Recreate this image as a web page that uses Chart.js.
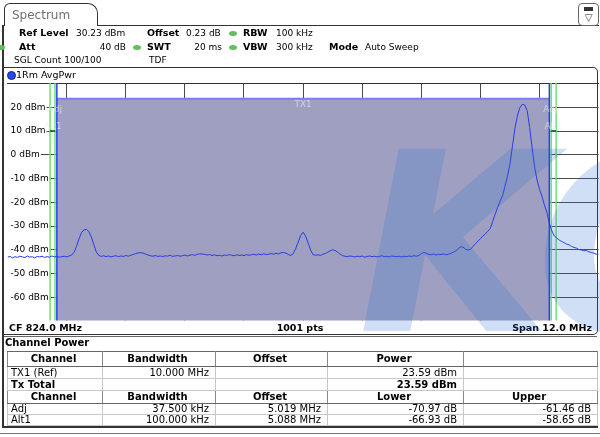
<!DOCTYPE html>
<html>
<head>
<meta charset="utf-8">
<script src="https://cdn.jsdelivr.net/npm/chart.js@4.4.0/dist/chart.umd.min.js"></script>
<style>
  html, body { margin: 0; padding: 0; background: #fff; }
  #page { position: relative; width: 600px; height: 437px; overflow: hidden;
          font-family: "DejaVu Sans", sans-serif; color: #000; }
  .a { position: absolute; white-space: nowrap; line-height: 12px; }
  .h { font-size: 9px; }
  .hb { font-size: 9.5px; font-weight: bold; }
  .f { font-size: 9.5px; font-weight: bold; }
  .dot { position: absolute; width: 8px; height: 5px; border-radius: 50%; background: #5fbf5f; }
  #spec { position: absolute; left: 0; top: 0; }
  #cp { position: absolute; left: 7px; top: 351px; border-collapse: collapse; table-layout: fixed;
        font-size: 10px; width: 590px; }
  #cp td, #cp th { padding: 0 6px 0 3px; line-height: 10px; border: 1px solid #c8c8c8; overflow: hidden; white-space: nowrap; }
  #cp th { text-align: center; border-top: 1px solid #666; border-bottom: 1px solid #666;
           border-left: 1px solid #888; border-right: 1px solid #888; }
  #cp .r { text-align: right; }
  #cp .bd { font-weight: bold; }
  #wm { position: absolute; left: 0; top: 0; width: 600px; height: 335px; overflow: hidden; pointer-events: none; }
  #wm span { position: absolute; left: 358px; top: 120px; font: italic bold 250px/250px "DejaVu Sans";
             color: rgba(40, 110, 210, 0.22); }
</style>
</head>
<body>
<div id="page">
  <!-- frames -->
  <div class="a" style="left:4px;top:3px;width:92px;height:22px;border:1.5px solid #333;border-bottom:none;border-radius:6px 10px 0 0;"></div>
  <div class="a" style="left:97px;top:25px;width:502px;height:0;border-top:1.5px solid #333;"></div>
  <div class="a" style="left:578px;top:3px;width:19px;height:21px;border:1px solid #666;border-radius:4px;font-size:10px;line-height:12px;text-align:center;color:#333;">
    <div style="position:absolute;left:5px;top:3px;width:9px;height:4px;background:#333;"></div>
    <div style="position:absolute;left:0;top:8px;width:19px;">▽</div>
  </div>
  <div class="a" style="left:2px;top:25px;width:0;height:403px;border-left:2px solid #333;"></div>
  <div class="a" style="left:4px;top:67px;width:593px;height:266px;border:1px solid #333;border-left:none;border-radius:0 5px 5px 0;"></div>
  <div class="a" style="left:4px;top:336px;width:593px;height:0;border-top:1px solid #666;"></div>
  <div class="a" style="left:2px;top:426px;width:596px;height:0;border-top:2px solid #333;"></div>
  <div class="a" style="left:0;top:433px;width:600px;height:0;border-top:1px solid #777;"></div>

  <canvas id="spec" width="600" height="437"></canvas>

  <!-- tab + header -->
  <div class="a" style="left:12px;top:8px;font-size:12px;line-height:14px;color:#707070;">Spectrum</div>

  <div class="a hb" style="left:19px;top:27px;">Ref Level</div>
  <div class="a h"  style="left:76px;top:27px;">30.23 dBm</div>
  <div class="a hb" style="left:147px;top:27px;">Offset</div>
  <div class="a h"  style="left:186px;top:27px;">0.23 dB</div>
  <div class="dot" style="left:229px;top:31px;"></div>
  <div class="a hb" style="left:243px;top:27px;">RBW</div>
  <div class="a h"  style="left:276px;top:27px;">100 kHz</div>

  <div class="dot" style="left:-3px;top:45px;"></div>
  <div class="a hb" style="left:19px;top:41px;">Att</div>
  <div class="a h"  style="left:76px;top:41px;width:50px;text-align:right;">40 dB</div>
  <div class="dot" style="left:133px;top:45px;"></div>
  <div class="a hb" style="left:147px;top:41px;">SWT</div>
  <div class="a h"  style="left:172px;top:41px;width:50px;text-align:right;">20 ms</div>
  <div class="dot" style="left:229px;top:45px;"></div>
  <div class="a hb" style="left:243px;top:41px;">VBW</div>
  <div class="a h"  style="left:276px;top:41px;">300 kHz</div>
  <div class="a hb" style="left:329px;top:41px;">Mode</div>
  <div class="a h"  style="left:365px;top:41px;">Auto Sweep</div>

  <div class="a h" style="left:14px;top:54px;">SGL Count 100/100</div>
  <div class="a h" style="left:149px;top:54px;">TDF</div>

  <div class="a" style="left:7px;top:71px;width:7px;height:7px;border-radius:50%;background:#2848e8;border:0.5px solid #102090;"></div>
  <div class="a h" style="left:16px;top:69px;font-size:9.5px;">1Rm AvgPwr</div>

  <!-- footer -->
  <div class="a f" style="left:9px;top:322px;">CF 824.0 MHz</div>
  <div class="a f" style="left:250px;top:322px;width:100px;text-align:center;">1001 pts</div>
  <div class="a f" style="left:442px;top:322px;width:150px;text-align:right;">Span 12.0 MHz</div>

  <div class="a" style="left:5px;top:337px;font-size:10px;font-weight:bold;">Channel Power</div>

  <table id="cp">
    <colgroup><col style="width:95px"><col style="width:113px"><col style="width:112px"><col style="width:136px"><col style="width:134px"></colgroup>
    <tr style="height:15px"><th>Channel</th><th>Bandwidth</th><th>Offset</th><th>Power</th><th></th></tr>
    <tr style="height:12px"><td>TX1 (Ref)</td><td class="r">10.000 MHz</td><td></td><td class="r">23.59 dBm</td><td></td></tr>
    <tr style="height:12px"><td class="bd">Tx Total</td><td></td><td></td><td class="r bd">23.59 dBm</td><td></td></tr>
    <tr style="height:13px"><th>Channel</th><th>Bandwidth</th><th>Offset</th><th>Lower</th><th>Upper</th></tr>
    <tr style="height:11px"><td>Adj</td><td class="r">37.500 kHz</td><td class="r">5.019 MHz</td><td class="r">-70.97 dB</td><td class="r">-61.46 dB</td></tr>
    <tr style="height:11px"><td>Alt1</td><td class="r">100.000 kHz</td><td class="r">5.088 MHz</td><td class="r">-66.93 dB</td><td class="r">-58.65 dB</td></tr>
  </table>

  <div id="wm"><span>KC</span></div>
</div>

<script>
// sweep: CF 824 MHz, span 12 MHz, one value every 0.05 MHz
const startMHz = 818.0;
const stepMHz = 0.05;

// trace 1 (AvgPwr), dBm
const traceDbm = [
  -43.1, -42.8, -43.4, -42.9, -43.2, -42.7, -43.0, -43.3, -42.6, -43.1, -42.9, -43.4, -42.8, -43.0, -42.7, -43.2, -42.9, -43.1, -42.6, -43.0,
  -42.8, -43.1, -42.9, -42.7, -43.0, -42.6, -42.2, -41.0, -38.6, -35.4, -32.8, -31.6, -31.4, -32.3, -34.6, -37.8, -40.9, -42.3, -42.8, -42.5,
  -42.9, -42.6, -43.0, -42.7, -42.5, -42.9, -42.6, -42.8, -42.4, -42.7, -42.3, -42.0, -41.6, -41.3, -41.2, -41.4, -41.8, -42.2, -42.5, -42.7,
  -42.4, -42.8, -42.6, -42.9, -42.5, -42.7, -42.3, -42.8, -42.6, -42.4, -42.7, -42.5, -42.2, -42.6, -42.3, -42.0, -42.4, -41.9, -41.7, -41.8,
  -41.9, -42.2, -42.0, -42.4, -42.1, -42.5, -42.3, -42.6, -42.2, -42.4, -42.0, -42.3, -42.5, -42.1, -42.4, -42.2, -42.5, -42.0, -42.3, -42.1,
  -41.9, -42.2, -41.8, -42.1, -41.7, -42.0, -41.9, -41.6, -41.8, -41.5, -41.7, -41.3, -41.1, -41.4, -42.0, -42.4, -41.6, -39.5, -36.8, -34.0,
  -32.6, -34.2, -37.0, -40.0, -42.0, -42.3, -42.1, -42.4, -41.9, -41.6, -41.0, -40.4, -40.0, -40.3, -41.0, -41.8, -42.4, -42.7, -42.9, -42.6,
  -42.8, -43.0, -42.7, -42.9, -42.6, -43.1, -42.8, -42.6, -42.9, -42.7, -43.0, -42.8, -42.5, -42.9, -42.7, -43.0, -42.6, -42.8, -42.9, -42.7,
  -43.0, -42.7, -42.9, -42.6, -42.8, -42.5, -42.7, -42.4, -41.6, -41.1, -41.5, -41.9, -42.1, -41.8, -42.2, -41.9, -42.0, -41.8, -42.1, -41.9,
  -41.5, -41.0, -40.5, -39.5, -38.7, -38.9, -39.8, -40.1, -39.8, -38.6, -37.4, -36.4, -35.3, -34.2, -33.3, -32.2, -31.0, -28.0, -25.0, -22.2,
  -19.5, -17.2, -13.2, -9.0, -4.0, 3.5, 11.0, 16.3, 19.8, 21.3, 21.0, 18.6, 11.5, 3.0, -5.0, -10.6, -14.5, -17.5, -21.2, -24.2,
  -28.8, -32.0, -34.2, -35.0, -35.9, -36.5, -37.0, -37.6, -37.9, -38.6, -39.0, -39.3, -39.9, -40.1, -40.4, -40.3, -40.8, -41.1, -41.4, -41.8,
  -42.0
];

const refLevel = 30.23;
const rangeDb = 100;
const yTicks = [20, 10, 0, -10, -20, -30, -40, -50, -60];
const xGridMHz = [819.2, 820.4, 821.6, 822.8, 824.0, 825.2, 826.4, 827.6, 828.8];

// channel setup
const txPower = 23.59;
const tx1 = [819.0, 829.0];
const greenLines = [818.862, 818.962, 829.0375, 829.138];
const alt1Lower = [818.862, 818.962];
const alt1Upper = [829.0375, 829.138];

const points = traceDbm.map((v, i) => ({ x: startMHz + i * stepMHz, y: v }));

// TX1 channel bar, channel edges and labels
const channelPlugin = {
  id: 'channels',
  beforeDatasetsDraw(chart) {
    const { ctx, chartArea: a, scales: { x, y } } = chart;
    const x0 = x.getPixelForValue(tx1[0]);
    const x1 = x.getPixelForValue(tx1[1]);
    const yt = y.getPixelForValue(txPower);
    ctx.save();
    ctx.fillStyle = 'rgb(159,160,193)';
    ctx.fillRect(x0, yt, x1 - x0, a.bottom - yt);
    ctx.strokeStyle = '#7b7df2';
    ctx.lineWidth = 2;
    ctx.beginPath(); ctx.moveTo(x0, yt); ctx.lineTo(x1, yt); ctx.stroke();

    ctx.strokeStyle = '#6fe06f';
    ctx.lineWidth = 1.5;
    greenLines.forEach(f => {
      const px = x.getPixelForValue(f);
      ctx.beginPath(); ctx.moveTo(px, a.top); ctx.lineTo(px, a.bottom); ctx.stroke();
    });
    ctx.strokeStyle = '#2a3cf5';
    [x0, x1].forEach(px => {
      ctx.beginPath(); ctx.moveTo(px, a.top); ctx.lineTo(px, a.bottom); ctx.stroke();
    });
    // Alt1 limit marks
    ctx.strokeStyle = '#1c7a1c';
    ctx.lineWidth = 2;
    const yl = y.getPixelForValue(10);
    [alt1Lower, alt1Upper].forEach(r => {
      ctx.beginPath(); ctx.moveTo(x.getPixelForValue(r[0]), yl); ctx.lineTo(x.getPixelForValue(r[1]), yl); ctx.stroke();
    });

    ctx.fillStyle = 'rgba(235,235,245,0.65)';
    ctx.font = '9px "DejaVu Sans"';
    ctx.textAlign = 'center';
    ctx.textBaseline = 'middle';
    ctx.fillText('TX1', x.getPixelForValue(824), yt + 6);
    ctx.fillText('Adj', x0 - 2, y.getPixelForValue(19));
    ctx.fillText('Alt1', x0 - 4, y.getPixelForValue(12));
    ctx.fillText('Adj', x1 + 1, y.getPixelForValue(19));
    ctx.fillText('Alt1', x1 + 4, y.getPixelForValue(12));
    ctx.restore();
  }
};

new Chart(document.getElementById('spec'), {
  type: 'line',
  data: {
    datasets: [{
      data: points,
      borderColor: '#2a3ae6',
      borderWidth: 1,
      pointRadius: 0,
      tension: 0,
      fill: false
    }]
  },
  options: {
    responsive: false,
    animation: false,
    events: [],
    layout: { padding: { left: 7.6, right: 1.4, top: 83, bottom: 116.5 } },
    plugins: { legend: { display: false }, tooltip: { enabled: false } },
    scales: {
      x: {
        type: 'linear', position: 'top', min: 818, max: 830,
        afterBuildTicks: s => { s.ticks = xGridMHz.map(v => ({ value: v })); },
        afterFit: s => { s.height = 0; },
        ticks: { display: false },
        grid: { color: '#4a4a4a', drawTicks: false },
        border: { display: true, color: '#333', width: 1 }
      },
      y: {
        min: refLevel - rangeDb, max: refLevel,
        afterBuildTicks: s => { s.ticks = yTicks.map(v => ({ value: v })); },
        afterFit: s => { s.width = 0; },
        ticks: {
          mirror: true, padding: 3, color: '#000',
          font: { family: 'DejaVu Sans', size: 9 },
          callback: v => v + ' dBm',
          showLabelBackdrop: true, backdropColor: '#fff',
          backdropPadding: { top: 0, bottom: 0, left: 3, right: 1 }
        },
        grid: { color: '#4a4a4a', drawTicks: false },
        border: { display: false }
      }
    }
  },
  plugins: [channelPlugin]
});
</script>
</body>
</html>
